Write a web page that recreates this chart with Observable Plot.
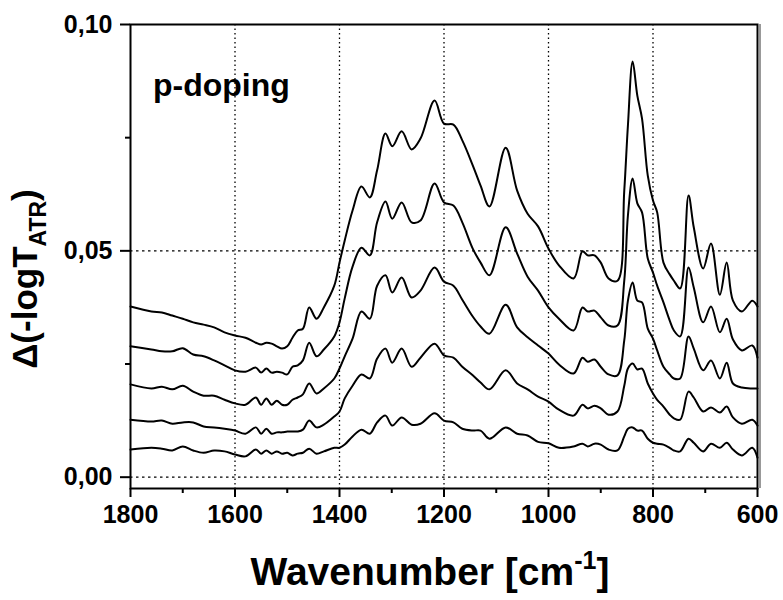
<!DOCTYPE html>
<html><head><meta charset="utf-8">
<script src="https://cdn.jsdelivr.net/npm/d3@7"></script>
<script src="https://cdn.jsdelivr.net/npm/@observablehq/plot@0.6"></script>
<style>
body{margin:0;background:#fff;}
#chart{width:783px;height:600px;}
</style>
</head><body><div id="chart"></div>
<script>
const wavenumbers = [1800,1760,1740,1720,1700,1680,1660,1640,1620,1600,
  1580,1560,1550,1540,1530,1520,1510,1500,1490,1480,
  1470,1458,1444,1430,1410,1400,1390,1375,1358,1342,
  1328,1312,1299,1281,1262,1245,1218,1200,1182,1165,
  1145,1130,1113,1082,1060,1040,1020,1000,980,952,
  935,925,912,900,885,868,855,848,839,830,
  821,810,800,792,780,768,760,748,732,722,
  704,689,672,659,647,630,610,600];

const trace1 = [0.0377,0.0366,0.0364,0.0357,0.0350,0.0342,0.0337,0.0331,0.0320,0.0313,
  0.0308,0.0297,0.0293,0.0297,0.0295,0.0289,0.0284,0.0289,0.0308,0.0324,
  0.0328,0.0375,0.0350,0.0375,0.0423,0.0474,0.0523,0.0589,0.0642,0.0618,
  0.0678,0.0759,0.0731,0.0764,0.0724,0.0748,0.0832,0.0781,0.0779,0.0744,
  0.0689,0.0644,0.0598,0.0728,0.0633,0.0582,0.0554,0.0505,0.0468,0.0439,
  0.0499,0.0490,0.0490,0.0474,0.0439,0.0434,0.0633,0.0777,0.0918,0.0843,
  0.0792,0.0666,0.0611,0.0585,0.0474,0.0448,0.0434,0.0417,0.0622,0.0552,
  0.0461,0.0516,0.0403,0.0474,0.0390,0.0366,0.0390,0.0377];

const trace2 = [0.0289,0.0282,0.0278,0.0278,0.0285,0.0271,0.0267,0.0258,0.0247,0.0236,
  0.0233,0.0242,0.0231,0.0240,0.0231,0.0233,0.0231,0.0227,0.0244,0.0247,
  0.0258,0.0297,0.0267,0.0282,0.0311,0.0342,0.0395,0.0465,0.0507,0.0490,
  0.0563,0.0609,0.0571,0.0607,0.0563,0.0567,0.0649,0.0607,0.0600,0.0563,
  0.0505,0.0474,0.0446,0.0552,0.0494,0.0443,0.0412,0.0375,0.0350,0.0324,
  0.0375,0.0366,0.0368,0.0353,0.0335,0.0335,0.0434,0.0578,0.0660,0.0605,
  0.0585,0.0483,0.0452,0.0423,0.0386,0.0346,0.0324,0.0311,0.0463,0.0419,
  0.0342,0.0377,0.0320,0.0350,0.0304,0.0280,0.0291,0.0264];

const trace3 = [0.0205,0.0196,0.0200,0.0194,0.0202,0.0189,0.0180,0.0180,0.0171,0.0163,
  0.0160,0.0176,0.0160,0.0174,0.0160,0.0169,0.0160,0.0160,0.0171,0.0176,
  0.0183,0.0207,0.0185,0.0196,0.0218,0.0240,0.0267,0.0306,0.0366,0.0350,
  0.0423,0.0446,0.0408,0.0441,0.0397,0.0412,0.0463,0.0432,0.0423,0.0392,
  0.0355,0.0333,0.0317,0.0381,0.0331,0.0309,0.0291,0.0273,0.0249,0.0229,
  0.0264,0.0255,0.0260,0.0244,0.0227,0.0225,0.0302,0.0390,0.0430,0.0390,
  0.0386,0.0328,0.0306,0.0280,0.0244,0.0227,0.0218,0.0218,0.0311,0.0284,
  0.0236,0.0258,0.0218,0.0253,0.0207,0.0198,0.0196,0.0196];

const trace4 = [0.0127,0.0123,0.0125,0.0118,0.0121,0.0121,0.0112,0.0110,0.0107,0.0103,
  0.0096,0.0110,0.0096,0.0107,0.0096,0.0099,0.0099,0.0101,0.0101,0.0101,
  0.0105,0.0125,0.0110,0.0116,0.0134,0.0145,0.0174,0.0202,0.0227,0.0218,
  0.0262,0.0284,0.0253,0.0284,0.0244,0.0264,0.0295,0.0269,0.0264,0.0244,
  0.0225,0.0209,0.0194,0.0236,0.0207,0.0194,0.0178,0.0167,0.0149,0.0136,
  0.0160,0.0152,0.0158,0.0152,0.0138,0.0145,0.0202,0.0240,0.0251,0.0238,
  0.0240,0.0207,0.0185,0.0171,0.0156,0.0138,0.0130,0.0127,0.0189,0.0176,
  0.0145,0.0154,0.0143,0.0156,0.0132,0.0118,0.0127,0.0114];

const trace5 = [0.0061,0.0065,0.0063,0.0059,0.0068,0.0059,0.0054,0.0059,0.0057,0.0050,
  0.0046,0.0061,0.0052,0.0059,0.0052,0.0057,0.0052,0.0054,0.0048,0.0052,
  0.0054,0.0063,0.0052,0.0057,0.0065,0.0065,0.0072,0.0090,0.0105,0.0096,
  0.0121,0.0136,0.0114,0.0132,0.0116,0.0118,0.0141,0.0125,0.0121,0.0107,
  0.0103,0.0103,0.0085,0.0110,0.0096,0.0092,0.0078,0.0075,0.0065,0.0068,
  0.0074,0.0068,0.0074,0.0072,0.0061,0.0059,0.0090,0.0107,0.0110,0.0103,
  0.0103,0.0085,0.0076,0.0074,0.0072,0.0065,0.0059,0.0057,0.0085,0.0076,
  0.0057,0.0074,0.0065,0.0076,0.0061,0.0048,0.0065,0.0043];

const seriesNames = ["t1","t2","t3","t4","t5"];
const xTicks = [1800,1600,1400,1200,1000,800,600];
const xMinorTicks = [1700,1500,1300,1100,900,700];
const xGrid = [1600,1400,1200,1000,800];
const yTicks = [0,0.05,0.10];
const yMinorTicks = [0.025,0.075];
const yGrid = [0,0.05];
const panelLabel = "p-doping";

const rows = [];
[trace1,trace2,trace3,trace4,trace5].forEach((vals,i)=>
  vals.forEach((v,j)=>rows.push({wn:wavenumbers[j], a:v, s:seriesNames[i]})));

const FONT = "'Liberation Sans', Arial, Helvetica, sans-serif";

const plot = Plot.plot({
  width: 783, height: 600,
  marginLeft: 130, marginRight: 26, marginTop: 24, marginBottom: 112,
  style: {fontFamily: FONT, background: "white", color: "black", overflow: "visible"},
  x: {domain: [1800, 600]},
  y: {domain: [-0.0025, 0.10]},
  marks: [
    Plot.ruleX(xGrid, {stroke: "black", strokeWidth: 1.3, strokeDasharray: "1.5,3"}),
    Plot.ruleY(yGrid, {stroke: "black", strokeWidth: 1.3, strokeDasharray: "2.5,3.5"}),
    Plot.line(rows, {x: "wn", y: "a", z: "s", stroke: "black", strokeWidth: 2, curve: "catmull-rom"}),
    Plot.ruleX([600], {dx: 2.5, stroke: "#999", strokeWidth: 2}),
    Plot.frame({stroke: "black", strokeWidth: 2}),
    Plot.axisX({ticks: xTicks, tickSize: 9, tickPadding: 8, strokeWidth: 2, fontSize: 25, fontWeight: "bold", tickFormat: d => String(d), label: null}),
    Plot.axisX({ticks: xMinorTicks, tickSize: 5, strokeWidth: 2, tickFormat: () => "", label: null}),
    Plot.axisY({ticks: yTicks, tickSize: 10, tickPadding: 8, strokeWidth: 2, fontSize: 25, fontWeight: "bold", tickFormat: d => d.toFixed(2).replace(".", ","), label: null}),
    Plot.axisY({ticks: yMinorTicks, tickSize: 5, strokeWidth: 2, tickFormat: () => "", label: null})
  ]
});

document.getElementById("chart").appendChild(plot);

const sx = plot.scale("x"), sy = plot.scale("y");
const svg = d3.select(plot);

// panel label
svg.append("text")
  .attr("x", sx.apply(1756)).attr("y", sy.apply(0.0841))
  .attr("text-anchor", "start")
  .attr("font-family", FONT).attr("font-weight", "bold").attr("font-size", 32)
  .attr("fill", "black").text(panelLabel);

// x-axis title
const xt = svg.append("text")
  .attr("x", 430).attr("y", 585)
  .attr("text-anchor", "middle")
  .attr("font-family", FONT).attr("font-weight", "bold").attr("font-size", 39)
  .attr("fill", "black");
xt.append("tspan").text("Wavenumber [cm");
xt.append("tspan").attr("font-size", 25).attr("dy", -16).text("-1");
xt.append("tspan").attr("dy", 16).text("]");

// y-axis title
const yt = svg.append("text")
  .attr("transform", "translate(37,279) rotate(-90)")
  .attr("text-anchor", "middle")
  .attr("font-family", FONT).attr("font-weight", "bold").attr("font-size", 35)
  .attr("fill", "black");
yt.append("tspan").text("\u0394(-logT");
yt.append("tspan").attr("font-size", 23).attr("dy", 9).text("ATR");
yt.append("tspan").attr("dy", -9).text(")");
</script>
</body></html>
